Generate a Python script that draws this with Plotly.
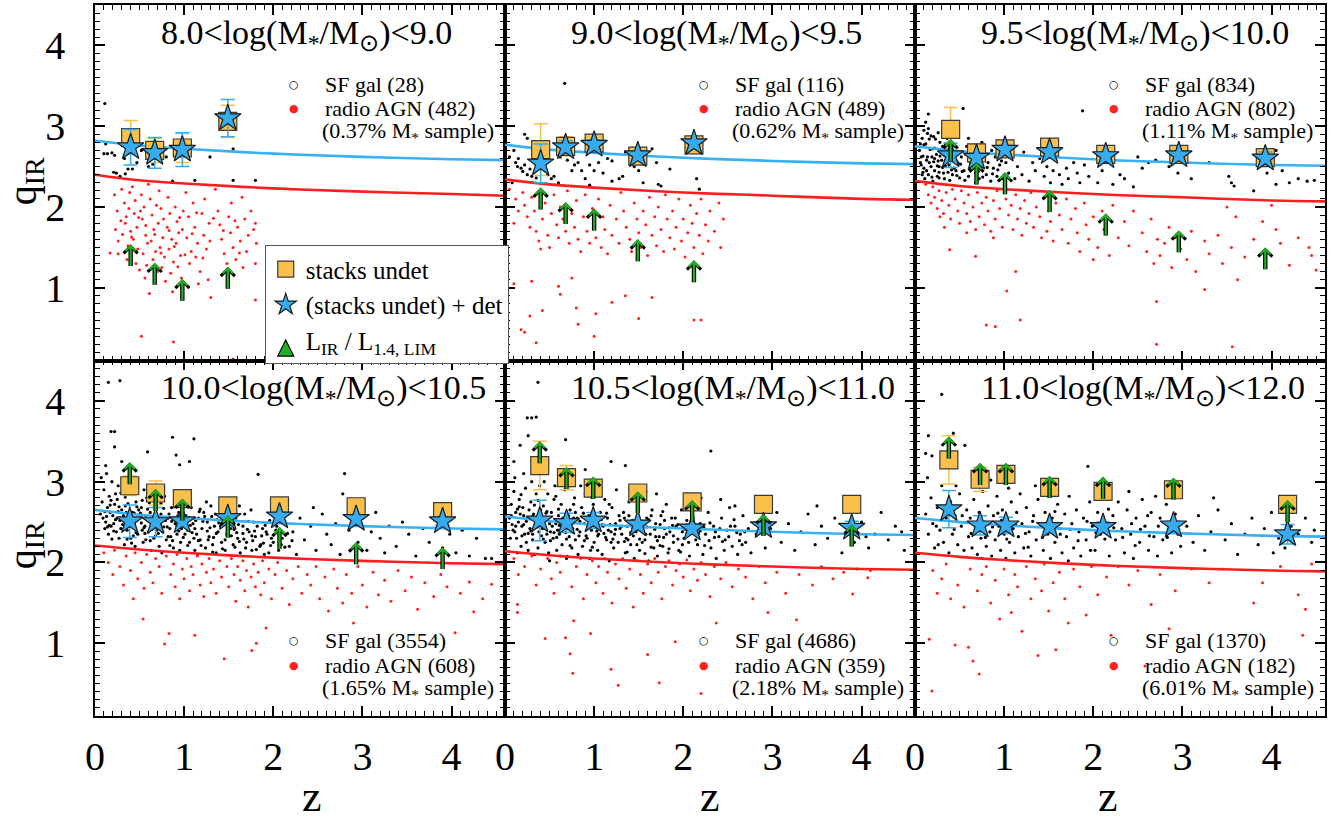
import plotly.graph_objects as go
from plotly.subplots import make_subplots

FONT = 'Liberation Serif'

mass_lo = ['8.0', '9.0', '9.5', '10.0', '10.5', '11.0']
mass_hi = ['9.0', '9.5', '10.0', '10.5', '11.0', '12.0']
n_sf = [28, 116, 834, 3554, 4686, 1370]
n_agn = [482, 489, 802, 608, 359, 182]
agn_frac = ['0.37', '0.62', '1.11', '1.65', '2.18', '6.01']

# model curves: SF locus (blue) and radio-excess threshold (red)
curve_z = [0, 0.5, 1, 2, 3, 4, 4.6]
blue_q = [
    [2.82, 2.76, 2.72, 2.66, 2.62, 2.59, 2.58],
    [2.77, 2.71, 2.67, 2.61, 2.57, 2.54, 2.53],
    [2.75, 2.69, 2.65, 2.59, 2.55, 2.52, 2.51],
    [2.65, 2.59, 2.55, 2.49, 2.45, 2.42, 2.41],
    [2.57, 2.51, 2.47, 2.42, 2.38, 2.35, 2.34],
    [2.55, 2.50, 2.46, 2.40, 2.36, 2.33, 2.32],
]
red_q = [
    [2.40, 2.33, 2.29, 2.23, 2.19, 2.16, 2.14],
    [2.34, 2.28, 2.24, 2.18, 2.14, 2.10, 2.09],
    [2.32, 2.26, 2.22, 2.16, 2.12, 2.08, 2.07],
    [2.21, 2.16, 2.12, 2.06, 2.02, 1.99, 1.98],
    [2.14, 2.09, 2.05, 1.99, 1.95, 1.92, 1.91],
    [2.12, 2.07, 2.03, 1.97, 1.93, 1.90, 1.89],
]

# stacks
stack_z = [
    [0.40, 0.67, 0.98, 1.49],
    [0.40, 0.68, 1.00, 1.49, 2.12],
    [0.40, 0.69, 1.01, 1.51, 2.14, 2.96, 3.93],
    [0.39, 0.68, 0.98, 1.49, 2.07, 2.93, 3.90],
    [0.39, 0.69, 0.99, 1.49, 2.10, 2.90, 3.89],
    [0.38, 0.73, 1.02, 1.51, 2.11, 2.90, 4.18],
]
square_q = [
    [2.86, 2.70, 2.73, 3.06],
    [2.71, 2.75, 2.79, 2.63, 2.77],
    [2.96, 2.67, 2.72, 2.74, 2.65, 2.65, 2.61],
    [2.95, 2.86, 2.79, 2.70, 2.70, 2.69, 2.63],
    [3.20, 3.05, 2.92, 2.86, 2.75, 2.72, 2.72],
    [3.27, 3.03, 3.09, 2.93, 2.88, 2.90, 2.72],
]
square_err = [
    [0.21, 0.15, 0.18, 0.20],
    [0.32, 0.12, 0.08, 0.05, 0.08],
    [0.27, 0.10, 0.06, 0.05, 0.05, 0.05, 0.06],
    [0.12, 0.15, 0.08, 0.06, 0.06, 0.05, 0.05],
    [0.30, 0.15, 0.10, 0.06, 0.08, 0.05, 0.05],
    [0.30, 0.15, 0.10, 0.06, 0.06, 0.05, 0.08],
]
star_q = [
    [2.74, 2.67, 2.71, 3.10],
    [2.54, 2.74, 2.77, 2.64, 2.79],
    [2.64, 2.61, 2.71, 2.68, 2.63, 2.64, 2.60],
    [2.51, 2.50, 2.51, 2.55, 2.57, 2.54, 2.51],
    [2.52, 2.49, 2.52, 2.47, 2.42, 2.45, 2.43],
    [2.66, 2.46, 2.46, 2.44, 2.44, 2.46, 2.35],
]
star_err = [
    [0.22, 0.19, 0.21, 0.23],
    [0.24, 0.08, 0.06, 0.05, 0.05],
    [0.15, 0.06, 0.05, 0.05, 0.05, 0.05, 0.08],
    [0.20, 0.18, 0.06, 0.05, 0.05, 0.05, 0.05],
    [0.25, 0.12, 0.10, 0.05, 0.06, 0.05, 0.08],
    [0.23, 0.12, 0.10, 0.05, 0.06, 0.05, 0.12],
]
# lower limits L_IR / L_1.4,LIM (arrow bases)
limit_q = [
    [1.25, 1.02, 0.82, 0.97],
    [1.95, 1.77, 1.69, 1.31, 1.05],
    [2.55, 2.26, 2.14, 1.92, 1.63, 1.42, 1.21],
    [2.95, 2.62, 2.50, 2.29, 2.15, 1.96, 1.90],
    [3.21, 2.89, 2.77, 2.59, 2.48, 2.31, 2.18],
    [3.27, 2.94, 2.94, 2.78, 2.77, 2.76, 2.48],
]

# individual galaxies (z, q)
sf_1 = [(0.11, 3.28), (0.12, 2.78), (0.10, 2.66), (0.14, 2.66), (0.19, 2.67), (0.22, 2.64),
        (0.21, 2.43), (0.24, 2.42), (0.34, 2.41), (0.37, 2.47), (0.42, 2.47), (0.47, 2.55),
        (0.60, 2.50), (0.65, 2.53), (0.87, 2.32), (1.12, 2.33), (1.29, 2.62), (1.55, 2.72),
        (1.55, 2.33), (1.80, 2.33), (0.33, 2.60), (0.52, 2.70), (0.80, 2.62), (0.28, 2.38)]
agn_1 = [(0.22, 2.15), (0.25, 1.95), (0.23, 1.72), (0.26, 1.58), (0.17, 1.43), (0.30, 2.22),
         (0.33, 2.05), (0.35, 1.88), (0.31, 1.66), (0.37, 1.52), (0.34, 1.80), (0.39, 2.18),
         (0.38, 1.98), (0.40, 1.70), (0.36, 1.35), (0.42, 2.25), (0.45, 2.08), (0.44, 1.92),
         (0.47, 1.75), (0.43, 1.60), (0.48, 1.48), (0.46, 1.30), (0.50, 1.22), (0.52, 2.15),
         (0.55, 2.00), (0.53, 1.85), (0.57, 1.65), (0.54, 1.42), (0.58, 1.28), (0.56, 1.12),
         (0.60, 2.28), (0.59, 1.55), (0.51, 1.95), (0.62, 2.10), (0.64, 1.90), (0.66, 1.72),
         (0.63, 1.58), (0.68, 1.45), (0.65, 1.35), (0.70, 1.20), (0.72, 2.20), (0.74, 1.98),
         (0.71, 1.80), (0.76, 1.62), (0.73, 1.50), (0.78, 1.38), (0.75, 1.25), (0.79, 1.08),
         (0.77, 1.85), (0.69, 2.02), (0.61, 0.93), (0.82, 2.12), (0.84, 1.92), (0.81, 1.75),
         (0.86, 1.60), (0.83, 1.48), (0.88, 1.32), (0.85, 1.18), (0.90, 2.00), (0.92, 1.82),
         (0.94, 1.68), (0.91, 1.55), (0.96, 1.40), (0.93, 1.26), (0.98, 1.72), (0.99, 1.95),
         (0.97, 1.12), (0.87, 0.95), (1.02, 2.18), (1.05, 1.88), (1.03, 1.62), (1.08, 1.45),
         (1.06, 1.30), (1.10, 2.05), (1.12, 1.75), (1.15, 1.55), (1.13, 1.38), (1.18, 1.20),
         (1.20, 1.92), (1.22, 1.65), (1.25, 1.48), (1.27, 1.10), (1.23, 2.10), (1.28, 1.80),
         (1.30, 0.88), (1.16, 1.05), (1.35, 2.22), (1.38, 1.95), (1.40, 1.78), (1.42, 1.60),
         (1.45, 1.42), (1.48, 1.30), (1.50, 1.88), (1.52, 1.68), (1.55, 1.50), (1.58, 1.35),
         (1.53, 2.05), (1.60, 1.75), (1.63, 1.58), (1.65, 2.12), (1.68, 1.85), (1.70, 1.45),
         (1.72, 1.65), (1.75, 1.95), (1.78, 1.72), (1.80, 1.80), (1.80, 1.30), (1.81, 1.55),
         (1.66, 1.25), (0.52, 0.40), (0.88, 0.33), (1.55, 0.12), (1.80, 0.85), (0.26, 1.42),
         (0.29, 1.83), (0.41, 1.63), (0.49, 1.87), (0.57, 1.77), (0.67, 1.66), (0.74, 1.43),
         (0.83, 1.71), (0.89, 1.51), (0.95, 1.87), (1.01, 1.41), (1.09, 1.67), (1.14, 1.93),
         (1.21, 1.37), (1.29, 1.58), (1.33, 1.86), (1.44, 1.71), (1.57, 1.83), (1.62, 1.43)]

sf_2 = [(0.22, 2.90), (0.25, 2.85), (0.15, 2.60), (0.12, 2.55), (0.14, 2.50), (0.18, 2.48),
        (0.20, 2.44), (0.22, 2.52), (0.25, 2.40), (0.28, 2.47), (0.30, 2.38), (0.35, 2.36),
        (0.45, 2.45), (0.48, 2.40), (0.52, 2.35), (0.55, 2.38), (0.60, 2.30), (0.67, 3.53),
        (0.70, 2.58), (0.75, 2.45), (0.78, 2.52), (0.82, 2.55), (0.86, 2.45), (0.90, 2.35),
        (0.95, 2.52), (1.00, 2.45), (1.05, 2.55), (1.10, 2.42), (1.15, 2.60), (1.20, 2.57),
        (1.28, 2.35), (1.32, 2.38), (1.35, 2.68), (1.45, 2.50), (1.50, 2.45), (1.55, 2.30),
        (1.65, 2.72), (1.70, 2.55), (1.72, 2.28), (1.75, 2.26), (1.85, 2.47), (2.15, 2.35),
        (2.18, 2.22), (0.40, 2.55), (0.62, 2.62), (0.08, 2.30), (0.10, 2.70), (0.05, 2.62),
        (1.20, 2.32), (0.95, 2.27)]
agn_2 = [(0.05, 2.22), (0.12, 2.10), (0.15, 1.95), (0.10, 1.80), (0.20, 2.18), (0.22, 2.02),
         (0.25, 1.88), (0.28, 1.75), (0.30, 2.12), (0.33, 1.95), (0.35, 1.70), (0.38, 1.58),
         (0.40, 2.20), (0.42, 1.85), (0.45, 2.05), (0.48, 1.65), (0.50, 1.50), (0.52, 1.92),
         (0.55, 2.15), (0.58, 1.78), (0.60, 1.62), (0.62, 2.00), (0.65, 1.85), (0.68, 1.70),
         (0.70, 2.20), (0.72, 1.55), (0.75, 1.92), (0.78, 1.75), (0.80, 2.08), (0.82, 1.60),
         (0.85, 1.45), (0.88, 1.88), (0.90, 2.15), (0.92, 1.70), (0.95, 1.55), (0.98, 1.98),
         (1.00, 1.80), (1.02, 1.62), (1.05, 2.10), (1.08, 1.50), (1.10, 1.88), (1.12, 1.72),
         (1.15, 1.42), (1.18, 2.02), (1.20, 1.65), (1.25, 1.85), (1.28, 1.55), (1.30, 2.18),
         (1.33, 1.95), (1.36, 1.75), (1.40, 1.60), (1.42, 1.45), (1.45, 2.05), (1.48, 1.85),
         (1.50, 1.68), (1.52, 1.50), (1.55, 1.95), (1.58, 1.78), (1.60, 1.40), (1.62, 2.12),
         (1.65, 1.65), (1.68, 1.88), (1.70, 1.52), (1.72, 2.00), (1.75, 1.72), (1.78, 1.45),
         (1.80, 2.15), (1.82, 1.85), (1.85, 1.62), (1.88, 1.95), (1.90, 1.48), (1.92, 1.75),
         (1.95, 2.10), (1.98, 1.58), (2.00, 1.85), (2.02, 1.38), (2.05, 1.68), (2.08, 2.02),
         (2.10, 1.80), (2.12, 1.50), (2.15, 1.92), (2.18, 1.65), (2.20, 2.10), (2.22, 1.42),
         (2.25, 1.78), (2.28, 1.58), (2.30, 1.95), (2.35, 1.70), (2.40, 2.05), (2.42, 1.50),
         (2.45, 1.85), (0.10, 1.05), (0.18, 0.48), (0.22, 0.45), (0.28, 0.65), (0.35, 0.32),
         (0.40, 1.48), (0.42, 0.72), (0.60, 1.02), (0.62, 0.92), (0.75, 1.12), (0.80, 0.75),
         (0.82, 0.55), (1.00, 0.40), (1.20, 0.82), (1.35, 0.90), (1.50, 0.62), (1.65, 0.88),
         (2.12, 0.60), (2.20, 0.60), (1.02, 0.68), (0.30, 1.08)]

sf_3 = [(0.05, 2.70), (0.08, 2.85), (0.06, 2.55), (0.10, 2.95), (0.12, 2.78), (0.14, 2.62),
        (0.10, 2.48), (0.15, 2.40), (0.18, 2.88), (0.20, 2.72), (0.16, 2.55), (0.22, 2.45),
        (0.24, 2.65), (0.25, 2.38), (0.28, 2.80), (0.30, 2.58), (0.27, 2.50), (0.32, 2.42),
        (0.35, 2.70), (0.33, 2.35), (0.38, 2.52), (0.40, 2.62), (0.42, 2.40), (0.45, 2.75),
        (0.44, 2.48), (0.48, 2.55), (0.50, 2.36), (0.12, 3.05), (0.08, 2.40), (0.20, 2.32),
        (0.26, 2.92), (0.36, 2.85), (0.15, 3.15), (0.07, 2.62), (0.18, 2.50), (0.22, 2.60),
        (0.29, 2.68), (0.11, 2.35), (0.52, 2.62), (0.55, 2.45), (0.58, 2.75), (0.60, 2.38),
        (0.62, 2.55), (0.65, 2.68), (0.68, 2.42), (0.70, 2.58), (0.72, 2.35), (0.75, 2.50),
        (0.78, 2.65), (0.80, 2.40), (0.82, 2.55), (0.85, 2.32), (0.88, 2.48), (0.90, 2.62),
        (0.92, 2.38), (0.95, 2.52), (0.98, 2.35), (0.54, 3.22), (0.60, 2.85), (0.75, 2.80),
        (0.68, 2.30), (0.86, 2.70), (1.02, 2.55), (1.05, 2.42), (1.08, 2.62), (1.12, 2.35),
        (1.15, 2.50), (1.20, 2.40), (1.22, 2.68), (1.28, 2.32), (1.32, 2.55), (1.35, 2.45),
        (1.40, 2.60), (1.45, 2.38), (1.48, 2.50), (1.52, 2.30), (1.55, 2.45), (1.58, 2.58),
        (1.62, 2.40), (1.65, 2.28), (1.70, 2.48), (1.72, 2.35), (1.78, 2.55), (1.82, 2.42),
        (1.85, 2.30), (1.88, 3.19), (1.90, 2.52), (1.95, 2.38), (2.05, 2.30), (2.10, 2.45),
        (2.15, 2.55), (2.22, 2.28), (2.30, 2.40), (2.35, 2.35), (2.45, 2.25), (2.55, 2.48),
        (2.62, 2.55), (2.70, 2.58), (2.85, 2.50), (2.95, 2.42), (3.00, 2.60), (3.10, 2.35),
        (3.52, 2.38), (3.55, 2.30), (3.58, 2.26), (3.80, 2.20), (3.95, 2.42), (4.05, 2.28),
        (4.12, 2.45), (4.20, 2.30), (4.30, 2.35), (4.40, 2.32), (4.48, 2.33), (4.05, 2.70),
        (3.30, 2.55), (2.50, 2.62), (0.09, 2.63), (0.13, 2.45), (0.17, 2.71), (0.21, 2.56),
        (0.23, 2.84), (0.27, 2.43), (0.31, 2.75), (0.34, 2.51), (0.37, 2.62), (0.41, 2.46),
        (0.43, 2.67), (0.47, 2.39), (0.51, 2.53), (0.56, 2.33), (0.61, 2.47), (0.66, 2.56),
        (0.71, 2.44), (0.76, 2.37), (0.81, 2.49), (0.87, 2.41), (0.93, 2.46), (0.97, 2.57),
        (0.06, 2.78), (0.14, 2.91), (0.19, 2.37), (0.26, 2.57), (0.32, 2.87), (0.39, 2.33),
        (0.46, 2.58), (0.57, 2.65),
        (0.07, 2.52), (0.10, 2.77), (0.13, 2.58), (0.16, 2.84), (0.19, 2.62), (0.22, 2.73),
        (0.25, 2.51), (0.28, 2.63), (0.31, 2.49), (0.34, 2.78), (0.37, 2.43), (0.40, 2.72),
        (0.43, 2.57), (0.46, 2.45), (0.49, 2.69), (0.09, 2.43), (0.15, 2.97), (0.21, 2.87),
        (0.27, 2.36), (0.33, 2.64), (0.39, 2.81), (0.45, 2.63), (0.53, 2.44), (0.63, 2.61)]
agn_3 = [(0.12, 2.28), (0.15, 2.15), (0.18, 2.05), (0.20, 2.25), (0.22, 2.12), (0.25, 1.98),
         (0.27, 2.20), (0.30, 2.08), (0.32, 1.92), (0.35, 2.18), (0.38, 2.02), (0.40, 1.85),
         (0.42, 2.22), (0.45, 2.10), (0.48, 1.95), (0.50, 1.80), (0.28, 1.88), (0.33, 1.75),
         (0.39, 1.47), (0.52, 2.20), (0.55, 2.05), (0.58, 1.92), (0.60, 2.15), (0.62, 1.82),
         (0.65, 2.00), (0.68, 1.72), (0.70, 2.18), (0.72, 1.88), (0.75, 2.05), (0.78, 1.78),
         (0.80, 2.12), (0.82, 1.95), (0.85, 1.70), (0.88, 2.08), (0.90, 1.85), (0.92, 2.20),
         (0.95, 1.98), (0.98, 1.75), (0.68, 1.39), (0.58, 1.68), (0.88, 1.62), (1.02, 2.10),
         (1.05, 1.90), (1.08, 2.02), (1.10, 1.72), (1.13, 2.15), (1.15, 1.85), (1.18, 1.98),
         (1.20, 1.65), (1.23, 2.08), (1.25, 1.80), (1.28, 1.92), (1.30, 2.18), (1.33, 1.75),
         (1.36, 2.00), (1.40, 1.88), (1.42, 1.62), (1.45, 2.12), (1.48, 1.70), (1.50, 1.95),
         (1.52, 1.82), (1.55, 1.58), (1.58, 2.05), (1.13, 1.20), (1.62, 1.90), (1.65, 1.72),
         (1.70, 2.10), (1.72, 1.55), (1.75, 1.85), (1.80, 1.98), (1.82, 1.68), (1.85, 1.45),
         (1.90, 2.05), (1.92, 1.78), (1.95, 1.60), (2.00, 1.88), (2.05, 1.50), (2.10, 1.95),
         (2.12, 1.72), (2.18, 1.40), (2.22, 2.02), (2.28, 1.62), (2.35, 1.82), (2.40, 1.52),
         (2.45, 1.95), (2.55, 1.68), (2.60, 1.45), (2.65, 1.85), (2.68, 1.30), (2.72, 1.60),
         (2.75, 1.40), (2.80, 1.55), (2.85, 1.75), (2.88, 1.25), (2.92, 1.62), (2.98, 1.48),
         (3.05, 1.35), (3.10, 1.70), (3.15, 1.20), (3.25, 1.58), (3.30, 1.42), (3.40, 1.65),
         (3.45, 1.30), (3.55, 1.50), (3.60, 1.88), (3.70, 1.38), (3.80, 1.60), (3.90, 1.82),
         (3.95, 1.45), (4.05, 1.72), (4.10, 1.55), (4.20, 1.28), (4.30, 1.62), (4.42, 1.50),
         (4.50, 1.22), (4.45, 1.40), (3.50, 2.00), (4.00, 2.02), (0.80, 0.54), (0.90, 0.52),
         (1.18, 0.60), (1.03, 0.96), (2.71, 0.83), (2.71, 0.30), (3.56, 0.27), (3.25, 0.98),
         (3.62, 1.10), (2.00, 1.35)]

sf_4 = [(0.06, 2.60), (0.08, 2.75), (0.10, 2.90), (0.12, 2.50), (0.14, 2.68), (0.16, 2.82),
        (0.18, 2.45), (0.20, 2.58), (0.22, 2.72), (0.24, 2.38), (0.26, 2.95), (0.28, 2.52),
        (0.30, 2.65), (0.07, 3.05), (0.11, 2.42), (0.15, 2.35), (0.19, 3.00), (0.23, 2.85),
        (0.27, 2.30), (0.09, 2.55), (0.13, 3.10), (0.17, 2.62), (0.21, 2.48), (0.25, 2.78),
        (0.29, 2.42), (0.32, 2.58), (0.34, 2.70), (0.36, 2.40), (0.38, 2.85), (0.40, 2.30),
        (0.42, 2.62), (0.44, 2.48), (0.46, 2.75), (0.48, 2.35), (0.50, 2.55), (0.52, 2.68),
        (0.54, 2.25), (0.56, 2.45), (0.58, 2.80), (0.60, 2.38), (0.33, 2.22), (0.37, 2.50),
        (0.41, 2.92), (0.45, 2.20), (0.49, 2.65), (0.53, 2.40), (0.57, 2.58), (0.35, 2.62),
        (0.47, 2.52), (0.55, 2.90), (0.62, 2.62), (0.64, 2.45), (0.66, 2.30), (0.68, 2.72),
        (0.70, 2.50), (0.72, 2.20), (0.74, 2.60), (0.76, 2.38), (0.78, 2.82), (0.80, 2.28),
        (0.82, 2.55), (0.84, 2.42), (0.86, 2.68), (0.88, 2.18), (0.90, 2.48), (0.92, 2.35),
        (0.94, 2.62), (0.96, 2.25), (0.98, 2.52), (0.63, 2.15), (0.69, 2.40), (0.73, 2.88),
        (0.79, 2.52), (0.85, 2.32), (0.91, 2.75), (0.97, 2.42), (0.67, 2.58), (0.75, 2.12),
        (0.83, 2.60), (0.95, 2.15), (1.02, 2.58), (1.04, 2.40), (1.06, 2.25), (1.08, 2.68),
        (1.10, 2.48), (1.12, 2.15), (1.14, 2.35), (1.16, 2.55), (1.18, 2.28), (1.20, 2.42),
        (1.22, 2.62), (1.24, 2.18), (1.26, 2.50), (1.28, 2.32), (1.30, 2.70), (1.32, 2.22),
        (1.34, 2.45), (1.36, 2.12), (1.38, 2.38), (1.40, 2.58), (1.42, 2.25), (1.44, 2.48),
        (1.46, 2.15), (1.48, 2.35), (1.05, 2.88), (1.15, 2.10), (1.25, 2.75), (1.35, 2.60),
        (1.45, 2.65), (1.11, 2.30), (1.52, 2.42), (1.55, 2.22), (1.58, 2.55), (1.60, 2.30),
        (1.63, 2.12), (1.66, 2.45), (1.68, 2.60), (1.70, 2.25), (1.73, 2.38), (1.76, 2.15),
        (1.78, 2.50), (1.80, 2.32), (1.83, 3.09), (1.85, 2.20), (1.88, 2.42), (1.90, 2.10),
        (1.93, 2.35), (1.96, 2.52), (2.00, 2.25), (2.03, 2.40), (2.06, 2.15), (2.10, 2.30),
        (2.14, 2.48), (2.18, 2.20), (2.22, 2.38), (2.26, 2.10), (2.30, 2.55), (1.62, 2.70),
        (1.75, 2.65), (1.95, 2.12), (2.35, 2.28), (2.42, 2.45), (2.48, 2.15), (2.55, 2.60),
        (2.60, 2.35), (2.65, 2.22), (2.70, 2.48), (2.75, 2.10), (2.80, 3.10), (2.85, 2.40),
        (2.90, 2.72), (2.95, 2.25), (3.00, 2.55), (3.05, 2.15), (3.10, 2.38), (3.15, 2.62),
        (3.20, 2.30), (3.25, 2.12), (3.30, 2.45), (3.38, 2.20), (3.45, 2.50), (3.52, 2.35),
        (3.60, 2.08), (3.68, 2.42), (3.75, 2.25), (3.82, 2.55), (3.90, 2.18), (3.98, 2.35),
        (4.05, 2.12), (4.12, 2.40), (4.20, 2.08), (4.28, 2.30), (4.38, 2.05), (4.45, 2.05),
        (2.78, 2.85), (2.45, 2.68), (0.15, 4.23), (0.28, 4.25), (0.18, 3.62), (0.22, 3.62),
        (0.87, 3.55), (1.11, 3.53), (0.22, 3.43), (0.59, 3.37), (0.91, 3.33), (0.95, 3.21),
        (1.06, 3.25), (0.12, 3.20), (0.30, 3.25),
        (0.13, 2.57), (0.17, 2.71), (0.21, 2.39), (0.26, 2.63), (0.31, 2.47), (0.34, 2.81),
        (0.39, 2.56), (0.43, 2.33), (0.47, 2.69), (0.52, 2.49), (0.57, 2.28), (0.61, 2.74),
        (0.66, 2.53), (0.71, 2.36), (0.77, 2.67), (0.81, 2.44), (0.87, 2.27), (0.93, 2.58),
        (0.99, 2.31), (1.03, 2.73), (1.09, 2.37), (1.13, 2.52), (1.19, 2.21), (1.23, 2.57),
        (1.29, 2.43), (1.33, 2.31), (1.39, 2.49), (1.43, 2.17), (1.47, 2.56), (1.53, 2.33),
        (1.57, 2.19), (1.61, 2.47), (1.67, 2.29), (1.71, 2.41), (1.77, 2.27), (1.81, 2.16),
        (1.87, 2.33), (1.91, 2.46), (1.97, 2.21), (2.07, 2.33), (2.13, 2.19), (2.21, 2.27),
        (0.16, 2.46), (0.24, 2.54), (0.36, 2.29), (0.44, 2.61), (0.56, 2.36), (0.64, 2.41),
        (0.73, 2.47), (0.86, 2.51), (0.94, 2.39), (1.07, 2.46), (1.17, 2.63), (1.27, 2.28),
        (1.37, 2.53), (1.49, 2.42), (1.59, 2.37), (1.69, 2.18), (1.79, 2.39), (1.89, 2.24),
        (0.11, 2.63), (0.14, 2.44), (0.18, 2.77), (0.23, 2.53), (0.27, 2.69), (0.32, 2.41),
        (0.37, 2.73), (0.42, 2.51), (0.46, 2.37), (0.51, 2.61), (0.55, 2.43), (0.59, 2.66),
        (0.63, 2.49), (0.68, 2.33), (0.72, 2.57), (0.77, 2.44), (0.82, 2.32), (0.88, 2.55),
        (0.92, 2.45), (0.97, 2.63), (1.01, 2.35), (1.06, 2.55), (1.12, 2.42), (1.16, 2.27),
        (1.21, 2.51), (1.26, 2.39), (1.31, 2.57), (1.36, 2.36), (1.41, 2.45), (1.46, 2.28),
        (1.51, 2.51), (1.56, 2.41), (1.62, 2.26), (1.66, 2.36), (1.72, 2.51), (1.76, 2.33),
        (1.82, 2.45), (1.86, 2.22), (1.92, 2.38), (1.98, 2.30), (2.04, 2.45), (2.09, 2.22),
        (2.16, 2.36), (0.19, 2.29), (0.29, 2.86), (0.41, 2.24), (0.53, 2.77), (0.62, 2.27),
        (0.74, 2.73), (0.84, 2.21), (0.96, 2.69), (1.04, 2.21), (1.18, 2.66), (1.32, 2.13),
        (1.44, 2.59)]
agn_4 = [(0.10, 2.12), (0.15, 2.00), (0.20, 1.85), (0.22, 2.15), (0.28, 1.95), (0.32, 1.72),
         (0.35, 2.08), (0.40, 1.90), (0.43, 1.55), (0.45, 2.12), (0.48, 1.80), (0.52, 2.00),
         (0.54, 1.30), (0.55, 1.68), (0.58, 2.10), (0.62, 1.88), (0.65, 1.75), (0.68, 2.05),
         (0.72, 1.95), (0.75, 1.62), (0.78, 0.99), (0.80, 2.08), (0.83, 1.12), (0.85, 1.85),
         (0.88, 1.98), (0.90, 1.70), (0.92, 2.10), (0.95, 1.55), (0.98, 1.92), (1.00, 1.80),
         (1.03, 2.05), (1.06, 1.65), (1.08, 1.95), (1.10, 1.85), (1.12, 1.10), (1.15, 2.08),
         (1.18, 1.72), (1.20, 1.98), (1.22, 1.58), (1.25, 1.88), (1.28, 2.05), (1.30, 1.75),
         (1.33, 1.92), (1.36, 1.62), (1.40, 2.02), (1.42, 1.82), (1.45, 0.81), (1.48, 1.95),
         (1.50, 1.70), (1.53, 2.05), (1.56, 1.85), (1.58, 1.52), (1.60, 1.95), (1.63, 1.78),
         (1.66, 2.02), (1.68, 1.65), (1.70, 1.90), (1.72, 1.45), (1.75, 1.82), (1.76, 0.91),
         (1.78, 1.98), (1.80, 1.70), (1.81, 1.00), (1.83, 1.88), (1.86, 1.60), (1.88, 2.02),
         (1.90, 1.75), (1.92, 1.19), (1.95, 1.92), (1.98, 1.55), (2.02, 1.85), (2.05, 2.00),
         (2.10, 1.68), (2.15, 1.90), (2.18, 1.48), (2.22, 1.80), (2.28, 1.95), (2.32, 1.62),
         (2.38, 1.85), (2.42, 1.72), (2.48, 1.95), (2.52, 1.55), (2.58, 1.82), (2.62, 1.40),
         (2.68, 1.92), (2.72, 1.68), (2.78, 1.50), (2.82, 1.85), (2.88, 1.62), (2.90, 1.25),
         (2.95, 1.95), (3.00, 1.72), (3.05, 1.45), (3.12, 1.88), (3.18, 1.60), (3.25, 1.78),
         (3.32, 1.52), (3.40, 1.90), (3.48, 1.65), (3.55, 1.82), (3.62, 1.42), (3.70, 1.75),
         (3.80, 1.58), (3.88, 1.85), (3.95, 1.70), (4.04, 1.13), (4.10, 1.62), (4.20, 1.76),
         (4.25, 1.39), (4.35, 1.55), (4.45, 1.73)]

sf_5 = [(0.05, 2.55), (0.07, 2.72), (0.09, 2.40), (0.10, 2.88), (0.12, 2.62), (0.13, 2.30),
        (0.15, 2.50), (0.16, 2.78), (0.18, 2.20), (0.19, 2.45), (0.20, 2.68), (0.22, 2.35),
        (0.23, 2.92), (0.25, 2.55), (0.26, 2.15), (0.28, 2.42), (0.29, 2.75), (0.31, 2.28),
        (0.32, 2.60), (0.34, 2.48), (0.35, 2.85), (0.37, 2.18), (0.38, 2.38), (0.40, 2.65),
        (0.06, 2.30), (0.11, 3.05), (0.14, 2.12), (0.17, 2.60), (0.21, 3.10), (0.24, 2.25),
        (0.27, 2.65), (0.30, 3.00), (0.33, 2.10), (0.36, 2.55), (0.39, 2.95), (0.42, 2.42),
        (0.43, 2.70), (0.45, 2.25), (0.46, 2.55), (0.48, 2.85), (0.49, 2.12), (0.51, 2.38),
        (0.52, 2.62), (0.54, 2.30), (0.55, 2.78), (0.57, 2.48), (0.58, 2.15), (0.60, 2.58),
        (0.61, 2.35), (0.63, 2.72), (0.64, 2.22), (0.66, 2.45), (0.67, 2.90), (0.69, 2.05),
        (0.70, 2.52), (0.72, 2.32), (0.73, 2.65), (0.75, 2.18), (0.76, 2.42), (0.78, 2.80),
        (0.79, 2.28), (0.44, 3.00), (0.50, 2.02), (0.56, 2.95), (0.62, 2.08), (0.68, 2.60),
        (0.74, 2.95), (0.47, 2.35), (0.59, 2.40), (0.71, 2.42), (0.81, 2.55), (0.82, 2.10),
        (0.84, 2.38), (0.86, 2.68), (0.87, 2.20), (0.89, 2.48), (0.90, 2.85), (0.92, 2.30),
        (0.94, 2.58), (0.95, 2.05), (0.97, 2.40), (0.99, 2.72), (1.00, 2.25), (1.02, 2.52),
        (1.04, 2.15), (1.05, 2.35), (1.07, 2.62), (1.09, 2.10), (1.10, 2.45), (1.12, 2.78),
        (1.14, 2.28), (1.15, 2.55), (1.17, 2.02), (1.19, 2.38), (1.20, 2.68), (1.22, 2.18),
        (1.24, 2.48), (1.25, 2.90), (1.27, 2.25), (1.28, 2.58), (1.19, 3.25), (0.85, 2.95),
        (0.96, 2.15), (1.08, 2.85), (1.16, 2.40), (1.31, 2.35), (1.33, 2.62), (1.35, 2.12),
        (1.37, 2.45), (1.39, 2.75), (1.41, 2.22), (1.43, 2.52), (1.45, 2.05), (1.47, 2.38),
        (1.49, 2.68), (1.51, 2.15), (1.53, 2.42), (1.55, 2.82), (1.57, 2.28), (1.59, 2.55),
        (1.61, 2.02), (1.63, 2.35), (1.65, 2.65), (1.67, 2.18), (1.69, 2.48), (1.71, 2.08),
        (1.73, 2.32), (1.75, 2.58), (1.77, 2.20), (1.79, 2.42), (1.81, 2.72), (1.83, 2.12),
        (1.85, 2.38), (1.87, 2.55), (1.89, 2.25), (1.40, 2.92), (1.58, 2.88), (1.70, 2.85),
        (1.36, 2.30), (1.50, 2.50), (1.92, 2.45), (1.95, 2.15), (1.98, 2.65), (2.01, 2.30),
        (2.04, 2.52), (2.07, 2.08), (2.10, 2.40), (2.13, 2.72), (2.16, 2.22), (2.19, 2.48),
        (2.22, 2.10), (2.25, 2.35), (2.28, 2.62), (2.31, 3.38), (2.31, 2.18), (2.34, 2.45),
        (2.37, 2.05), (2.40, 2.32), (2.43, 2.55), (2.46, 2.15), (2.49, 2.40), (2.52, 2.68),
        (2.55, 2.20), (2.58, 2.45), (2.61, 2.10), (2.64, 2.35), (2.67, 2.58), (2.70, 2.25),
        (2.73, 2.42), (2.76, 2.12), (2.05, 2.85), (2.20, 2.80), (2.42, 2.78), (2.58, 2.70),
        (2.82, 2.35), (2.88, 2.55), (2.92, 2.18), (2.98, 2.42), (3.05, 2.62), (3.10, 2.25),
        (3.18, 2.48), (3.25, 2.15), (3.32, 2.38), (3.40, 2.60), (3.48, 2.22), (3.55, 2.45),
        (3.62, 2.30), (3.70, 2.55), (3.78, 2.12), (3.85, 2.40), (3.92, 2.25), (4.00, 2.50),
        (4.08, 2.18), (4.15, 2.35), (4.22, 2.62), (4.30, 2.28), (4.38, 2.45), (4.45, 2.38),
        (4.48, 2.15), (2.95, 2.80), (3.50, 2.70), (4.05, 2.32), (0.37, 4.23), (0.25, 3.79),
        (0.30, 3.79), (0.35, 3.80), (0.26, 3.57), (0.68, 3.52), (0.17, 3.45), (0.10, 3.25),
        (0.62, 3.15), (1.35, 3.20), (0.90, 3.15),
        (0.08, 2.47), (0.14, 2.66), (0.19, 2.33), (0.24, 2.51), (0.29, 2.39), (0.33, 2.71),
        (0.38, 2.46), (0.43, 2.29), (0.47, 2.63), (0.53, 2.45), (0.58, 2.31), (0.63, 2.52),
        (0.68, 2.37), (0.73, 2.21), (0.77, 2.55), (0.83, 2.33), (0.88, 2.61), (0.93, 2.43),
        (0.98, 2.19), (1.03, 2.39), (1.08, 2.53), (1.13, 2.31), (1.18, 2.47), (1.23, 2.35),
        (1.29, 2.42), (1.34, 2.55), (1.38, 2.28), (1.44, 2.43), (1.48, 2.22), (1.54, 2.51),
        (1.58, 2.35), (1.64, 2.19), (1.68, 2.41), (1.74, 2.47), (1.78, 2.31), (1.84, 2.17),
        (1.88, 2.46), (1.94, 2.29), (1.99, 2.38), (2.06, 2.25), (2.11, 2.55), (2.17, 2.36),
        (2.23, 2.44), (2.29, 2.27), (2.36, 2.38), (2.44, 2.26), (2.51, 2.32), (2.57, 2.53),
        (2.63, 2.27), (2.69, 2.38), (0.11, 2.38), (0.21, 2.58), (0.31, 2.35), (0.41, 2.52),
        (0.51, 2.27), (0.61, 2.46), (0.71, 2.58), (0.81, 2.41), (0.91, 2.33), (1.01, 2.48),
        (1.11, 2.36), (1.21, 2.29), (1.31, 2.45), (1.41, 2.37), (1.51, 2.29), (1.61, 2.53),
        (1.71, 2.27), (1.81, 2.35), (1.91, 2.55), (2.02, 2.41),
        (0.07, 2.58), (0.12, 2.45), (0.16, 2.69), (0.21, 2.47), (0.26, 2.36), (0.31, 2.57),
        (0.36, 2.44), (0.41, 2.33), (0.46, 2.61), (0.50, 2.48), (0.55, 2.37), (0.60, 2.66),
        (0.65, 2.55), (0.69, 2.29), (0.74, 2.47), (0.79, 2.62), (0.84, 2.51), (0.89, 2.27),
        (0.94, 2.45), (0.99, 2.58), (1.04, 2.33), (1.09, 2.47), (1.14, 2.61), (1.19, 2.25),
        (1.24, 2.41), (1.29, 2.52), (1.34, 2.26), (1.39, 2.58), (1.44, 2.33), (1.49, 2.47),
        (1.54, 2.25), (1.59, 2.44), (1.64, 2.58), (1.69, 2.32), (1.74, 2.21), (1.79, 2.52),
        (1.84, 2.43), (1.89, 2.33), (1.94, 2.47), (1.99, 2.22), (2.04, 2.36), (2.09, 2.47),
        (2.14, 2.28), (2.19, 2.39), (2.24, 2.21), (2.30, 2.49), (2.35, 2.31), (2.41, 2.42),
        (2.47, 2.28), (2.53, 2.45), (2.60, 2.37), (2.66, 2.22), (0.18, 2.84), (0.37, 2.77),
        (0.57, 2.82), (0.77, 2.72), (0.97, 2.81), (1.17, 2.72), (1.37, 2.13), (1.57, 2.11),
        (1.77, 2.63), (1.97, 2.13)]
agn_5 = [(0.10, 2.05), (0.15, 1.85), (0.14, 1.38), (0.14, 1.48), (0.22, 1.95), (0.30, 2.08),
         (0.35, 1.72), (0.40, 1.92), (0.45, 1.06), (0.48, 2.05), (0.52, 1.80), (0.55, 1.62),
         (0.58, 2.00), (0.62, 1.88), (0.68, 1.07), (0.70, 2.08), (0.73, 0.87), (0.75, 1.70),
         (0.76, 0.63), (0.77, 1.28), (0.80, 1.95), (0.85, 2.05), (0.88, 1.55), (0.92, 1.85),
         (0.96, 1.12), (0.98, 2.02), (1.02, 1.75), (1.05, 1.95), (1.10, 1.62), (1.12, 2.05),
         (1.15, 1.88), (1.19, 0.68), (1.20, 1.50), (1.24, 1.98), (1.27, 0.48), (1.28, 1.80),
         (1.32, 2.05), (1.36, 1.68), (1.40, 1.92), (1.44, 1.45), (1.48, 2.02), (1.52, 1.85),
         (1.55, 1.62), (1.60, 0.86), (1.60, 1.98), (1.64, 1.75), (1.68, 2.05), (1.72, 1.88),
         (1.73, 0.51), (1.76, 1.55), (1.80, 1.95), (1.84, 2.02), (1.88, 1.72), (1.91, 1.02),
         (1.92, 1.90), (1.96, 1.98), (2.00, 1.82), (2.04, 2.03), (2.08, 1.65), (2.12, 1.92),
         (2.16, 1.78), (2.20, 0.38), (2.20, 2.00), (2.25, 1.85), (2.30, 1.58), (2.35, 1.95),
         (2.37, 1.25), (2.42, 1.80), (2.48, 2.00), (2.55, 1.70), (2.62, 1.92), (2.70, 1.82),
         (2.78, 1.55), (2.85, 1.95), (2.95, 1.38), (2.92, 1.75), (3.05, 1.88), (3.15, 1.62),
         (3.27, 1.29), (3.30, 1.85), (3.45, 1.72), (3.55, 1.95), (3.68, 1.80), (3.80, 1.88),
         (3.90, 1.61), (3.95, 1.92), (4.07, 1.81), (4.10, 1.90)]

sf_6 = [(0.12, 2.60), (0.15, 2.35), (0.18, 2.80), (0.20, 2.48), (0.22, 2.18), (0.25, 2.68),
        (0.28, 2.40), (0.30, 2.95), (0.32, 2.25), (0.35, 2.55), (0.38, 2.12), (0.40, 2.75),
        (0.42, 2.35), (0.45, 2.58), (0.48, 2.22), (0.50, 2.85), (0.52, 2.45), (0.55, 2.15),
        (0.58, 2.65), (0.60, 2.32), (0.14, 3.05), (0.26, 2.22), (0.46, 2.95), (0.62, 2.55),
        (0.64, 2.18), (0.66, 2.78), (0.68, 2.42), (0.70, 2.10), (0.72, 2.62), (0.74, 2.30),
        (0.76, 2.88), (0.78, 2.50), (0.80, 2.20), (0.82, 2.70), (0.84, 2.38), (0.86, 2.08),
        (0.88, 2.58), (0.90, 2.28), (0.92, 2.82), (0.94, 2.45), (0.96, 2.15), (0.98, 2.65),
        (1.00, 2.35), (1.02, 2.05), (1.04, 2.55), (1.06, 2.25), (1.08, 2.75), (1.10, 2.42),
        (1.12, 2.12), (1.14, 2.62), (1.16, 2.32), (1.18, 2.85), (1.20, 2.48), (0.65, 2.95),
        (0.85, 3.02), (1.05, 2.92), (0.75, 2.05), (1.22, 2.18), (1.25, 2.68), (1.28, 2.38),
        (1.30, 2.08), (1.33, 2.58), (1.36, 2.28), (1.38, 2.78), (1.41, 2.45), (1.44, 2.15),
        (1.46, 2.62), (1.49, 2.35), (1.52, 2.05), (1.54, 2.55), (1.57, 2.25), (1.60, 2.72),
        (1.62, 2.42), (1.65, 2.12), (1.68, 2.60), (1.70, 2.32), (1.73, 2.82), (1.76, 2.48),
        (1.78, 2.18), (1.81, 2.65), (1.84, 2.38), (1.86, 2.08), (1.89, 2.55), (1.92, 2.28),
        (1.94, 3.19), (1.96, 2.75), (1.99, 2.45), (1.35, 2.95), (1.55, 2.88), (1.72, 2.02),
        (2.02, 2.15), (2.05, 2.62), (2.08, 2.35), (2.12, 2.82), (2.15, 2.48), (2.18, 2.08),
        (2.22, 2.58), (2.25, 2.28), (2.28, 2.75), (2.32, 2.42), (2.35, 2.12), (2.38, 2.65),
        (2.42, 2.35), (2.45, 2.05), (2.48, 2.55), (2.52, 2.25), (2.55, 2.78), (2.58, 2.45),
        (2.62, 2.15), (2.65, 2.62), (2.68, 2.32), (2.72, 2.08), (2.75, 2.55), (2.78, 2.28),
        (2.82, 2.72), (2.85, 2.42), (2.88, 2.12), (2.92, 2.60), (2.95, 2.35), (2.98, 2.20),
        (2.40, 2.88), (2.70, 2.82), (3.05, 2.45), (3.12, 2.25), (3.18, 2.58), (3.25, 2.15),
        (3.32, 2.38), (3.40, 2.65), (3.48, 2.28), (3.55, 2.48), (3.62, 2.10), (3.70, 2.35),
        (3.78, 2.55), (3.85, 2.22), (3.92, 2.42), (4.00, 2.62), (4.08, 2.30), (4.15, 2.18),
        (4.22, 2.45), (4.30, 2.35), (4.38, 2.55), (4.45, 2.25), (4.48, 2.40), (3.35, 2.80),
        (4.02, 2.12), (0.30, 4.08), (0.15, 3.57), (0.43, 3.60), (0.56, 3.45), (0.19, 3.32),
        (0.12, 3.35),
        (0.24, 2.45), (0.36, 2.64), (0.44, 2.41), (0.53, 2.58), (0.63, 2.36), (0.71, 2.49),
        (0.79, 2.31), (0.87, 2.44), (0.97, 2.52), (1.03, 2.29), (1.13, 2.47), (1.24, 2.36),
        (1.32, 2.51), (1.43, 2.31), (1.53, 2.45), (1.63, 2.35), (1.74, 2.41), (1.83, 2.27),
        (1.93, 2.51), (2.03, 2.37), (2.13, 2.29), (2.23, 2.43), (2.33, 2.31), (2.43, 2.48),
        (2.53, 2.41), (2.63, 2.33), (2.73, 2.45), (2.83, 2.31), (2.93, 2.49), (0.93, 2.61),
        (1.57, 2.63), (2.17, 2.66), (2.61, 2.58), (1.27, 2.19), (1.97, 2.15), (2.47, 2.21)]
agn_6 = [(0.16, 1.05), (0.19, 0.41), (0.20, 1.90), (0.25, 1.62), (0.30, 1.80), (0.35, 1.98),
         (0.40, 1.55), (0.45, 0.98), (0.48, 1.72), (0.55, 1.45), (0.60, 0.95), (0.62, 1.92),
         (0.65, 0.78), (0.70, 1.65), (0.72, 0.62), (0.75, 1.85), (0.80, 1.95), (0.85, 1.50),
         (0.90, 1.78), (0.95, 1.30), (1.00, 1.92), (1.05, 1.60), (1.08, 1.38), (1.12, 1.85),
         (1.15, 1.70), (1.20, 1.15), (1.25, 1.95), (1.30, 1.55), (1.35, 1.80), (1.38, 0.85),
         (1.42, 1.65), (1.45, 1.98), (1.50, 1.40), (1.55, 1.75), (1.58, 0.92), (1.62, 1.88),
         (1.68, 1.55), (1.72, 1.25), (1.78, 1.92), (1.85, 1.70), (1.92, 1.35), (1.98, 1.95),
         (2.05, 1.60), (2.15, 1.82), (2.20, 1.10), (2.28, 1.95), (2.40, 1.72), (2.50, 1.90),
         (2.58, 0.72), (2.65, 1.48), (2.75, 1.85), (2.85, 1.18), (2.92, 1.65), (3.10, 1.92),
         (3.30, 1.75), (3.45, 1.92), (3.80, 1.50), (3.90, 1.75), (4.10, 1.95), (4.30, 1.60),
         (4.38, 1.42), (4.35, 1.10), (4.45, 1.98)]

sf_clouds = [sf_1, sf_2, sf_3, sf_4, sf_5, sf_6]
agn_clouds = [agn_1, agn_2, agn_3, agn_4, agn_5, agn_6]

SQ_COL = '#F9C04B'
STAR_COL = '#36ACEE'
BLUE_LINE = '#38B0F5'
RED_LINE = '#FF1E1E'
ARROW_GREEN = '#22B022'
ARROW_LEN = 0.29
NB = '\u00a0'

fig = make_subplots(rows=2, cols=3, horizontal_spacing=0, vertical_spacing=0)

for i in range(6):
    r, c = i // 3 + 1, i % 3 + 1
    xa = 'x' if i == 0 else f'x{i + 1}'
    ya = 'y' if i == 0 else f'y{i + 1}'

    fig.add_trace(go.Scatter(x=[p[0] for p in sf_clouds[i]], y=[p[1] for p in sf_clouds[i]],
                             mode='markers', marker=dict(color='black', size=3.2),
                             showlegend=False, hoverinfo='skip'), row=r, col=c)
    fig.add_trace(go.Scatter(x=[p[0] for p in agn_clouds[i]], y=[p[1] for p in agn_clouds[i]],
                             mode='markers', marker=dict(color='#FF2020', size=3),
                             showlegend=False, hoverinfo='skip'), row=r, col=c)
    fig.add_trace(go.Scatter(x=curve_z, y=blue_q[i], mode='lines', line_shape='spline',
                             line=dict(color=BLUE_LINE, width=2.6), showlegend=False), row=r, col=c)
    fig.add_trace(go.Scatter(x=curve_z, y=red_q[i], mode='lines', line_shape='spline',
                             line=dict(color=RED_LINE, width=2.6), showlegend=False), row=r, col=c)
    fig.add_trace(go.Scatter(x=stack_z[i], y=square_q[i], mode='markers',
                             error_y=dict(type='data', array=square_err[i], color=SQ_COL,
                                          thickness=1.5, width=7),
                             marker=dict(symbol='square', size=18, color=SQ_COL,
                                         line=dict(color='#3a3a3a', width=1.2)),
                             showlegend=False), row=r, col=c)
    fig.add_trace(go.Scatter(x=stack_z[i], y=star_q[i], mode='markers',
                             error_y=dict(type='data', array=star_err[i], color=STAR_COL,
                                          thickness=1.5, width=7),
                             marker=dict(symbol='star', size=20, color=STAR_COL,
                                         line=dict(color='#1a1a1a', width=1.2)),
                             showlegend=False), row=r, col=c)

    # lower-limit arrows: black underlay + green arrow on top
    for zz, qb in zip(stack_z[i], limit_q[i]):
        for colr, w, s in (('black', 4.4, 0.62), (ARROW_GREEN, 2.2, 0.9)):
            fig.add_annotation(x=zz, y=qb + ARROW_LEN, ax=zz, ay=qb, xref=xa, yref=ya,
                               axref=xa, ayref=ya, text='', showarrow=True, arrowhead=4,
                               arrowwidth=w, arrowsize=s, arrowcolor=colr, standoff=0)

    fig.add_annotation(x=0.72, y=4.13, xref=xa, yref=ya, xanchor='left', yanchor='middle',
                       showarrow=False,
                       text=f'{mass_lo[i]}&lt;log(M<sub>*</sub>/M<sub>\u2299</sub>)&lt;{mass_hi[i]}',
                       font=dict(family=FONT, size=34, color='black'))

    rows_q = [3.52, 3.22, 2.93] if r == 1 else [1.03, 0.73, 0.44]
    fig.add_annotation(x=2.23, y=rows_q[0], xref=xa, yref=ya, text='\u25cb', showarrow=False,
                       font=dict(family='DejaVu Sans', size=11, color='black'))
    fig.add_annotation(x=2.23, y=rows_q[1], xref=xa, yref=ya, text='\u25cf', showarrow=False,
                       font=dict(family='DejaVu Sans', size=11, color='#FF2020'))
    key_font = dict(family=FONT, size=22, color='black')
    fig.add_annotation(x=2.56, y=rows_q[0], xref=xa, yref=ya, xanchor='left', showarrow=False,
                       text=f'SF gal ({n_sf[i]})', font=key_font)
    fig.add_annotation(x=2.56, y=rows_q[1], xref=xa, yref=ya, xanchor='left', showarrow=False,
                       text=f'radio AGN ({n_agn[i]})', font=key_font)
    fig.add_annotation(x=2.52, y=rows_q[2], xref=xa, yref=ya, xanchor='left', showarrow=False,
                       text=f'({agn_frac[i]}% M<sub>*</sub> sample)', font=key_font)

    axis_common = dict(ticks='inside', ticklen=10, tickwidth=1.5, tickcolor='black',
                       showline=True, linecolor='black', linewidth=1.5, mirror='allticks',
                       showgrid=False, zeroline=False,
                       tickfont=dict(family=FONT, size=40, color='black'))
    minor_ticks = dict(ticks='inside', dtick=0.1, ticklen=5, tickwidth=1.2, tickcolor='black')
    fig.update_xaxes(range=[0, 4.6], tick0=0, dtick=1, showticklabels=(r == 2),
                     ticklabelstandoff=4, minor=minor_ticks,
                     row=r, col=c, **axis_common)
    fig.update_yaxes(range=[0.1, 4.5], tickvals=[1, 2, 3, 4],
                     ticktext=[f'{v}{NB}{NB}' for v in [1, 2, 3, 4]], showticklabels=(c == 1),
                     minor=minor_ticks, row=r, col=c, **axis_common)

# legend entries (boxed key in the first panel)
fig.add_trace(go.Scatter(x=[None], y=[None], mode='markers', name='stacks undet', legendgroup='a',
                         marker=dict(symbol='square', size=16, color=SQ_COL,
                                     line=dict(color='#3a3a3a', width=1.2))), row=1, col=1)
fig.add_trace(go.Scatter(x=[None], y=[None], mode='markers', name='(stacks undet) + det', legendgroup='b',
                         marker=dict(symbol='star', size=16, color=STAR_COL,
                                     line=dict(color='#1a1a1a', width=1.2))), row=1, col=1)
fig.add_trace(go.Scatter(x=[None], y=[None], mode='markers', name='L<sub>IR</sub> / L<sub>1.4, LIM</sub>',
                         legendgroup='c',
                         marker=dict(symbol='arrow-up', size=16, color=ARROW_GREEN,
                                     line=dict(color='black', width=1.2))), row=1, col=1)

for xc in [1 / 6, 0.5, 5 / 6]:
    fig.add_annotation(x=xc, y=-0.113, xref='paper', yref='paper', text='z', showarrow=False,
                       yanchor='middle', font=dict(family=FONT, size=44, color='black'))
for yc in [0.752, 0.24]:
    fig.add_annotation(x=-0.057, y=yc, xref='paper', yref='paper', text='q<sub>IR</sub>',
                       showarrow=False, textangle=-90, xanchor='center', yanchor='middle',
                       font=dict(family=FONT, size=40, color='black'))

fig.update_layout(
    width=1339, height=821,
    margin=dict(l=95, r=14, t=3, b=105),
    plot_bgcolor='white', paper_bgcolor='white',
    showlegend=True,
    legend=dict(x=0.138, y=0.662, xanchor='left', yanchor='top', bgcolor='white',
                bordercolor='#555', borderwidth=1, tracegroupgap=0, traceorder='grouped',
                itemwidth=30, font=dict(family=FONT, size=25, color='black')),
)

fig.write_html('out.html', config={'displayModeBar': False},
               post_script="document.body.style.margin='0';")
